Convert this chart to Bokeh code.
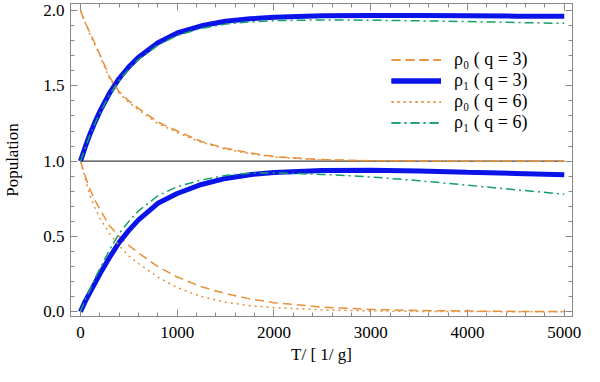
from bokeh.plotting import figure
from bokeh.models import (Range1d, LinearAxis, SingleIntervalTicker, NumeralTickFormatter,
                          Legend, LegendItem, CustomJSTickFormatter)
from bokeh.embed import file_html
from bokeh.resources import INLINE

# ---- data ----
T = [0, 50, 100, 150, 200, 300, 400, 500, 600, 800, 1000, 1250, 1500, 1750,
     2000, 2500, 3000, 3500, 4000, 4500, 5000]

# upper branch (starting from 1 or 2)
rho1_q3_up = [1.0, 1.096, 1.182, 1.259, 1.330, 1.451, 1.549, 1.627, 1.690, 1.786, 1.851,
              1.899, 1.929, 1.945, 1.955, 1.965, 1.968, 1.968, 1.966, 1.963, 1.962]
rho1_q6_up = [1.0, 1.090, 1.175, 1.250, 1.320, 1.440, 1.535, 1.612, 1.675, 1.770, 1.835,
              1.882, 1.910, 1.925, 1.933, 1.938, 1.936, 1.932, 1.927, 1.921, 1.915]
rho0_q3_up = [2.0, 1.92, 1.85, 1.78, 1.71, 1.56, 1.46, 1.40, 1.35, 1.26, 1.20,
              1.13, 1.085, 1.055, 1.03, 1.01, 1.003, 1.0, 1.0, 1.0, 1.0]
rho0_q6_up = [2.0, 1.915, 1.84, 1.77, 1.70, 1.55, 1.45, 1.39, 1.34, 1.25, 1.19,
              1.125, 1.08, 1.05, 1.028, 1.008, 1.002, 1.0, 1.0, 1.0, 1.0]

# lower branch (starting from 0 or 1)
rho1_q3_lo = [0.0, 0.07, 0.13, 0.19, 0.25, 0.36, 0.46, 0.54, 0.61, 0.72, 0.785,
              0.845, 0.885, 0.91, 0.925, 0.937, 0.94, 0.935, 0.926, 0.918, 0.91]
rho1_q6_lo = [0.0, 0.08, 0.15, 0.22, 0.285, 0.41, 0.52, 0.60, 0.67, 0.77, 0.83,
              0.875, 0.905, 0.92, 0.922, 0.912, 0.895, 0.87, 0.84, 0.81, 0.78]
rho0_q3_lo = [1.0, 0.90, 0.81, 0.74, 0.68, 0.57, 0.50, 0.44, 0.39, 0.30, 0.23,
              0.165, 0.12, 0.085, 0.06, 0.03, 0.015, 0.008, 0.004, 0.002, 0.001]
rho0_q6_lo = [1.0, 0.88, 0.77, 0.69, 0.62, 0.52, 0.44, 0.37, 0.32, 0.23, 0.16,
              0.10, 0.063, 0.04, 0.027, 0.012, 0.005, 0.002, 0.001, 0.0, 0.0]

ref_T = [0, 5000]
ref_y = [1.0, 1.0]

labels = ["ρ₀ ( q = 3)", "ρ₁ ( q = 3)", "ρ₀ ( q = 6)", "ρ₁ ( q = 6)"]

x_ticks_interval = 1000
y_ticks_interval = 0.5

# ---- figure ----
FONT = "'Liberation Serif', 'Times New Roman', serif"
p = figure(width=584, height=366, output_backend="svg", toolbar_location=None,
           x_range=Range1d(-103, 5085), y_range=Range1d(-0.032, 2.047),
           min_border_left=70, min_border_right=12, min_border_top=3, min_border_bottom=0,
           x_axis_label="T/ [ 1/ g]", y_axis_label="Population")
p.grid.visible = False
p.outline_line_color = "#888888"
p.background_fill_color = "white"

def style_axis(ax, show_labels=True):
    ax.axis_line_color = "#888888"
    ax.major_tick_line_color = "#888888"
    ax.minor_tick_line_color = "#888888"
    ax.major_tick_in = 7
    ax.major_tick_out = 0
    ax.minor_tick_in = 4
    ax.minor_tick_out = 0
    ax.major_label_text_font = FONT
    ax.major_label_text_color = "black"
    ax.axis_label_text_font = FONT
    ax.axis_label_text_font_style = "normal"
    ax.axis_label_text_color = "black"
    ax.axis_label_text_font_size = "17px"
    ax.major_label_text_font_size = "17px"
    if not show_labels:
        ax.major_label_standoff = 0
        ax.formatter = CustomJSTickFormatter(code="return ''")

xa = p.xaxis[0]
xa.ticker = SingleIntervalTicker(interval=x_ticks_interval, num_minor_ticks=5)
style_axis(xa)
xa.major_label_standoff = 10
xa.axis_label_standoff = 4

ya = p.yaxis[0]
ya.ticker = SingleIntervalTicker(interval=y_ticks_interval, num_minor_ticks=5)
ya.formatter = NumeralTickFormatter(format="0.0")
style_axis(ya)
ya.major_label_standoff = 6
ya.axis_label_standoff = 18

top = LinearAxis(ticker=SingleIntervalTicker(interval=x_ticks_interval, num_minor_ticks=5))
style_axis(top, show_labels=False)
p.add_layout(top, "above")
right = LinearAxis(ticker=SingleIntervalTicker(interval=y_ticks_interval, num_minor_ticks=5))
style_axis(right, show_labels=False)
p.add_layout(right, "right")

# reference line
p.line(ref_T, ref_y, line_color="#404040", line_width=1.3)

ORANGE = "#E6903A"
BLUE = "#0A14E8"
GREEN = "#149E6A"

specs = [
    (rho0_q3_up, rho0_q3_lo, dict(line_color=ORANGE, line_width=1.5, line_dash="9 5")),
    (rho1_q3_up, rho1_q3_lo, dict(line_color=BLUE, line_width=5)),
    (rho0_q6_up, rho0_q6_lo, dict(line_color=ORANGE, line_width=1.5, line_dash="2 4")),
    (rho1_q6_up, rho1_q6_lo, dict(line_color=GREEN, line_width=1.5, line_dash="9 4 2 4")),
]
items = []
for (up, lo, st), lab in zip(specs, labels):
    r1 = p.line(T, up, **st)
    r2 = p.line(T, lo, **st)
    items.append(LegendItem(label=lab, renderers=[r1, r2]))

legend = Legend(items=items, location=(321, 183))
legend.border_line_color = None
legend.background_fill_alpha = 0
legend.padding = 0
legend.margin = 0
legend.spacing = 0
legend.label_height = 21
legend.glyph_height = 21
legend.glyph_width = 50
legend.label_standoff = 13
legend.label_text_font = FONT
legend.label_text_font_size = "18px"
legend.label_text_color = "black"
p.add_layout(legend)

open("out.html", "w").write(file_html(p, INLINE))
